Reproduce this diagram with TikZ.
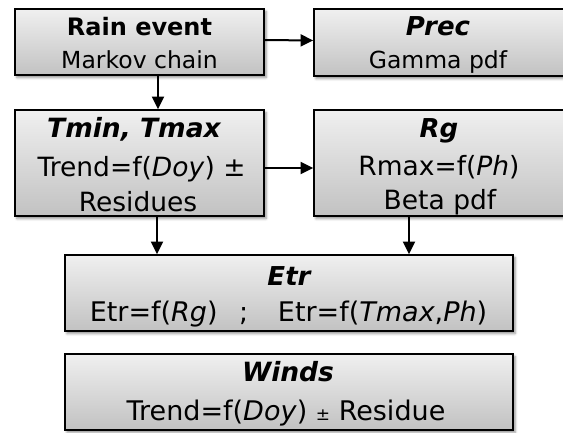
\documentclass[tikz,border=0pt]{standalone}
\usepackage{fontspec}
\setmainfont{DejaVu Sans}
\usetikzlibrary{arrows.meta,shadows.blur}

\newcommand{\fs}[1]{\fontsize{#1}{#1}\selectfont}

\tikzset{
  box/.style={draw=black, line width=1.8pt, rectangle, inner sep=0pt,
    top color=gray!12, bottom color=gray!48,
    blur shadow={shadow xshift=2pt, shadow yshift=-2.5pt, shadow opacity=45, shadow blur radius=2.5pt}},
  label/.style={anchor=base, inner sep=0pt},
  title/.style={label, font=\fs{26}\bfseries\itshape},
  widetitle/.style={label, font=\fs{26.5}\bfseries\itshape},
  heading/.style={label, font=\fs{24}\bfseries},
  toprow/.style={label, font=\fs{23.5}},
  midrow/.style={label, font=\fs{26.5}},
  lowrow/.style={label, font=\fs{27}},
  arr/.style={line width=2pt, -{Triangle[length=12.5pt,width=12pt]}},
}

\begin{document}
\begin{tikzpicture}[x=1pt,y=-1pt]
\useasboundingbox (0,0) rectangle (563,432);

% boxes (the two right-hand boxes run past the right margin)
\node[box, minimum width=249pt, minimum height=66pt]  (rain)  at (139.5,42)  {};
\node[box, minimum width=252pt, minimum height=67pt]  (prec)  at (440,42.5)  {};
\node[box, minimum width=249pt, minimum height=106pt] (tmin)  at (139.5,163) {};
\node[box, minimum width=252pt, minimum height=106pt] (rg)    at (440,163)   {};
\node[box, minimum width=448pt, minimum height=76pt]  (etr)   at (289,293)   {};
\node[box, minimum width=448pt, minimum height=76pt]  (winds) at (289,392)   {};

% texts
\node[heading] (t1a) at (139.5,35) {Rain event};
\node[toprow]  (t1b) at (139.5,68) {Markov chain};

\node[title]  (t2a) at (438,35) {Prec};
\node[toprow] (t2b) at (438,68) {Gamma pdf};

\node[widetitle] (t3a) at (134,137) {Tmin, Tmax};
\node[midrow] (t3b) at (141.5,176) {Trend=f(\textit{Doy}) ±};
\node[midrow] (t3c) at (138,211) {Residues};

\node[title]  (t4a) at (439,137.5) {Rg};
\node[midrow] (t4b) at (439,175) {Rmax=f(\textit{Ph})};
\node[midrow] (t4c) at (440,209.5) {Beta pdf};

\node[title]  (t5a) at (289,285) {Etr};
\node[lowrow] (t5b) at (288.5,321) {Etr=f(\textit{Rg})\hspace{0.8em};\hspace{1.1em}Etr=f(\textit{Tmax},\textit{Ph})};

\node[widetitle] (t6a) at (288,381) {Winds};
\node[lowrow] (t6b) at (286,420) {Trend=f(\textit{Doy}) {\fs{17}±} Residue};

% connectors
\draw[arr] ([yshift=2pt]rain.east) -- ([yshift=2pt]prec.west);
\draw[arr] ([xshift=18.5pt]rain.south) -- ([xshift=18.5pt]tmin.north);
\draw[arr] ([yshift=-5pt]tmin.east) -- ([yshift=-5pt]rg.west);
\draw[arr] ([xshift=17.5pt]tmin.south) -- ([xshift=-132pt]etr.north);
\draw[arr] ([xshift=-31pt]rg.south) -- ([xshift=120pt]etr.north);
\end{tikzpicture}
\end{document}
